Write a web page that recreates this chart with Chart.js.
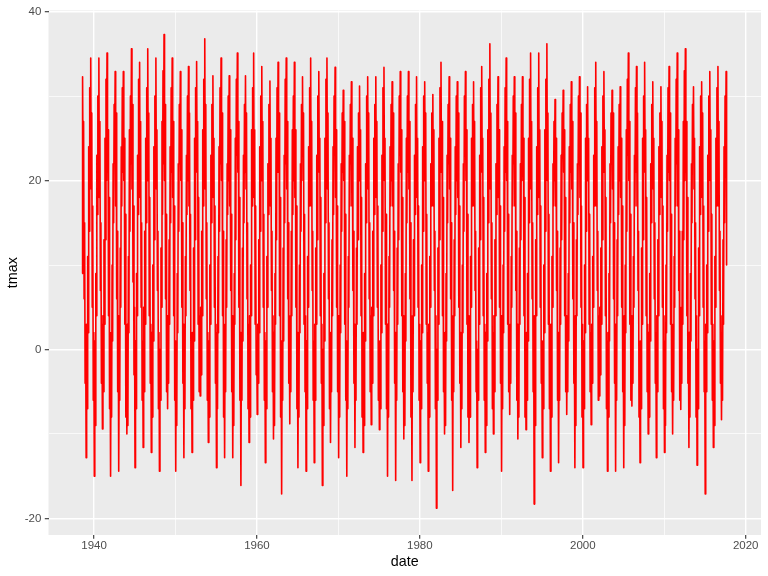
<!DOCTYPE html>
<html>
<head>
<meta charset="utf-8">
<script src="https://cdn.jsdelivr.net/npm/chart.js@4.4.1/dist/chart.umd.min.js"></script>
<style>
  html, body { margin: 0; padding: 0; background: #fff; }
  canvas { display: block; }
</style>
</head>
<body>
<canvas id="myChart" width="768" height="576"></canvas>
<script>
// one row per year, 16 readings spread over the year (jan .. dec)
const years = [];
for (let y = 1938; y <= 2017; y++) years.push(y);

const tmaxRows = [
  [null, null, null, null, null, null, null, null, 9, 32.3, 20, 27, 6, 15, -4, 3], // 1938
  [-12.8, 3, -7, 11, 2, 24, 14, 31, 21, 34.5, 19, 28, 5, 17, -6, 2],
  [-15, 1, -9, 9, 4, 23, 16, 30, 22, 34.5, 18, 27, 7, 15, -4, 3], // 1940
  [-9.4, 4, -5, 13, 3, 25, 13, 32, 20, 35.1, 21, 26, 4, 18, -7, 1],
  [-15, 2, -8, 10, 1, 22, 15, 29, 23, 32.9, 17, 28, 6, 14, -5, 4],
  [-14.4, 0, -6, 12, 5, 24, 17, 31, 21, 32.9, 20, 25, 3, 16, -8, 2],
  [-10, 3, -9, 11, 2, 26, 14, 30, 22, 35.6, 19, 29, 8, 17, -3, 5],
  [-14, 1, -7, 9, 4, 23, 16, 32, 24, 34, 18, 27, 5, 15, -6, 1],
  [-11.6, 5, -5, 14, 3, 25, 15, 31, 20, 35.6, 21, 28, 4, 18, -4, 3],
  [-12.2, 2, -8, 10, 1, 24, 13, 30, 23, 34.5, 19, 26, 7, 14, -7, 2],
  [-14.4, 0, -6, 12, 5, 27, 16, 33, 22, 37.3, 20, 29, 6, 16, -5, 4],
  [-7, 4, -4, 13, 3, 24, 15, 31, 21, 34.5, 18, 27, 4, 17, -6, 1],
  [-14.4, 1, -9, 9, 2, 22, 14, 29, 22, 32.9, 20, 26, 5, 15, -4, 3], // 1950
  [-12.8, 3, -7, 11, 4, 23, 16, 30, 20, 33.5, 17, 28, 7, 16, -7, 2],
  [-12.2, 2, -6, 12, 1, 25, 13, 31, 23, 34.1, 21, 27, 3, 18, -5, 4],
  [-5.5, 5, -3, 14, 4, 26, 17, 32, 22, 36.8, 19, 29, 6, 15, -6, 2],
  [-11, 1, -8, 10, 3, 23, 15, 29, 21, 32.4, 18, 25, 5, 17, -4, 3],
  [-14, 2, -7, 11, 2, 24, 14, 31, 22, 34.5, 20, 28, 4, 14, -8, 1],
  [-12.8, 3, -5, 13, 5, 22, 16, 30, 20, 32.4, 17, 26, 7, 16, -5, 4],
  [-12.8, 0, -9, 9, 3, 25, 13, 32, 23, 35.1, 21, 27, 5, 18, -6, 2],
  [-16.1, 2, -6, 12, 1, 23, 15, 29, 21, 32.4, 19, 28, 6, 15, -7, 3],
  [-11, 4, -8, 10, 4, 26, 17, 31, 22, 35.1, 18, 26, 3, 17, -3, 1],
  [-7.7, 3, -4, 13, 2, 24, 14, 30, 20, 33.5, 20, 27, 5, 16, -6, 2], // 1960
  [-13.4, 1, -7, 11, 5, 22, 16, 29, 23, 31.8, 17, 25, 7, 14, -5, 4],
  [-10.6, 2, -9, 9, 3, 25, 13, 31, 21, 34, 21, 28, 4, 18, -8, 1],
  [-17.1, 0, -6, 12, 1, 23, 15, 32, 22, 34.5, 19, 27, 6, 15, -4, 3],
  [-8.8, 4, -5, 14, 4, 26, 16, 30, 20, 34, 18, 26, 5, 17, -7, 2],
  [-14, 2, -8, 10, 2, 22, 14, 29, 23, 32.3, 20, 28, 3, 16, -5, 4],
  [-14.4, 1, -7, 11, 5, 24, 17, 31, 21, 34.5, 17, 27, 7, 14, -6, 1],
  [-13.4, 3, -6, 12, 3, 23, 13, 30, 22, 32.9, 21, 25, 4, 18, -4, 3],
  [-16.1, 0, -9, 9, 1, 25, 15, 32, 20, 34.5, 19, 28, 6, 15, -7, 2],
  [-11, 2, -5, 13, 4, 24, 16, 30, 23, 33.4, 18, 26, 5, 17, -5, 4],
  [-12.8, 4, -8, 10, 2, 22, 14, 28, 21, 30.7, 20, 27, 3, 16, -6, 1], // 1970
  [-15, 1, -7, 11, 5, 23, 17, 29, 22, 31.7, 17, 25, 7, 14, -4, 3],
  [-11.6, 3, -6, 12, 3, 24, 13, 28, 20, 31.2, 21, 26, 4, 18, -8, 2],
  [-12.2, 2, -9, 9, 1, 22, 15, 30, 23, 32.3, 19, 28, 6, 15, -5, 4],
  [-8.9, 5, -4, 14, 4, 25, 16, 29, 21, 32.3, 18, 27, 5, 17, -6, 1],
  [-9.5, 1, -7, 10, 2, 23, 14, 31, 22, 33.4, 20, 25, 3, 16, -7, 3],
  [-15, 3, -8, 11, 5, 24, 17, 29, 20, 31.7, 17, 28, 7, 14, -4, 2],
  [-15.5, 0, -6, 12, 3, 22, 13, 30, 23, 32.9, 21, 26, 4, 18, -5, 4],
  [-10.6, 2, -9, 9, 1, 25, 15, 30, 21, 32.9, 19, 27, 6, 15, -8, 1],
  [-15.5, 4, -5, 13, 4, 23, 16, 29, 22, 32.3, 18, 25, 5, 17, -6, 3],
  [-13.4, 1, -7, 10, 2, 24, 14, 30, 20, 31.7, 20, 28, 3, 16, -4, 2], // 1980
  [-14.4, 3, -8, 11, 5, 22, 17, 28, 23, 30.2, 17, 26, 7, 14, -7, 4],
  [-18.8, 0, -6, 12, 3, 25, 13, 31, 21, 34, 21, 27, 4, 18, -5, 1],
  [-10, 2, -9, 9, 1, 23, 15, 29, 22, 32.3, 19, 25, 6, 15, -6, 3],
  [-16.7, 4, -5, 13, 4, 24, 16, 30, 20, 31.7, 18, 28, 5, 17, -4, 2],
  [-11.6, 1, -7, 10, 2, 22, 14, 30, 23, 32.9, 20, 26, 3, 16, -8, 4],
  [-11, 3, -8, 11, 5, 25, 17, 29, 21, 31.7, 17, 27, 7, 14, -5, 1],
  [-14, 0, -6, 12, 3, 23, 13, 31, 22, 33.5, 21, 25, 4, 18, -6, 3],
  [-12.2, 2, -9, 9, 1, 26, 15, 32, 20, 36.2, 19, 28, 6, 15, -7, 2],
  [-10, 4, -5, 13, 4, 22, 16, 29, 23, 32.3, 18, 26, 5, 17, -4, 4],
  [-14.4, 1, -7, 10, 2, 24, 14, 31, 21, 34.5, 20, 27, 3, 16, -5, 1], // 1990
  [-7.7, 3, -4, 11, 5, 23, 17, 30, 22, 32.3, 17, 28, 7, 14, -6, 3],
  [-10.6, 0, -8, 12, 3, 22, 13, 29, 20, 32.3, 21, 25, 4, 18, -8, 2],
  [-9.5, 2, -6, 9, 1, 25, 15, 32, 23, 35.1, 19, 27, 6, 15, -5, 4],
  [-18.3, 4, -9, 13, 4, 24, 16, 31, 21, 35.1, 18, 26, 5, 17, -4, 1],
  [-12.8, 1, -7, 10, 2, 26, 14, 32, 22, 36.2, 20, 28, 3, 16, -7, 3],
  [-14.4, 3, -8, 11, 5, 22, 17, 27, 20, 29.6, 17, 25, 7, 14, -6, 2],
  [-13.4, 0, -6, 12, 3, 23, 13, 28, 23, 30.7, 21, 26, 4, 18, -5, 4],
  [-7.7, 2, -5, 9, 1, 24, 15, 29, 21, 31.7, 19, 27, 6, 15, -4, 1],
  [-14, 4, -9, 13, 4, 22, 16, 30, 22, 32.3, 18, 28, 5, 17, -8, 3],
  [-14, 1, -7, 10, 2, 25, 14, 29, 20, 31.1, 20, 25, 3, 16, -5, 2], // 2000
  [-8.9, 3, -4, 11, 5, 23, 17, 31, 23, 34, 17, 27, 7, 14, -6, 4],
  [-5.5, 5, -3, 12, 3, 24, 13, 30, 21, 32.9, 21, 26, 4, 18, -7, 1],
  [-14.4, 2, -8, 9, 1, 22, 15, 28, 22, 30.7, 19, 28, 6, 15, -4, 3],
  [-14.4, 0, -6, 13, 4, 24, 16, 29, 20, 31.1, 18, 25, 5, 17, -5, 2],
  [-14, 4, -9, 10, 2, 26, 14, 32, 23, 35.1, 20, 27, 3, 16, -6, 4],
  [-6.7, 3, -4, 11, 5, 23, 17, 31, 21, 33.5, 17, 28, 7, 14, -8, 1],
  [-13.4, 1, -7, 12, 3, 25, 13, 30, 22, 34, 21, 26, 4, 18, -5, 3],
  [-10, 2, -8, 9, 1, 22, 15, 29, 20, 31.7, 19, 25, 6, 15, -4, 2],
  [-12.8, 4, -5, 13, 4, 24, 16, 28, 23, 31.1, 18, 27, 5, 17, -7, 4],
  [-12.2, 1, -9, 10, 2, 23, 14, 31, 21, 33.5, 20, 28, 3, 16, -5, 1], // 2010
  [-10, 3, -6, 11, 5, 25, 17, 32, 22, 35.1, 17, 26, 7, 14, -6, 3],
  [-7.1, 5, -4, 14, 3, 27, 13, 33, 20, 35.6, 21, 27, 4, 18, -4, 2],
  [-11.6, 2, -8, 9, 1, 22, 15, 29, 23, 31.1, 19, 25, 6, 15, -8, 4],
  [-13.7, 0, -7, 12, 4, 24, 16, 30, 21, 31.7, 18, 28, 5, 17, -5, 1],
  [-17.1, 3, -5, 10, 2, 23, 14, 30, 22, 32.9, 20, 26, 3, 16, -6, 3],
  [-11.6, 1, -9, 11, 5, 25, 17, 31, 20, 33.5, 17, 27, 7, 14, -4, 2],
  [-8.3, 4, -6, 13, 3, 24, 15, 30, 22, 32.9, 10] // 2017
];

const xTicks = [1940, 1950, 1960, 1970, 1980, 1990, 2000, 2010, 2020];
const xTickLabels = [1940, 1960, 1980, 2000, 2020];
const yTicks = [-20, -10, 0, 10, 20, 30, 40];
const yTickLabels = [-20, 0, 20, 40];

const SLOTS = 16;
const FONT = "'Liberation Sans', Arial, Helvetica, sans-serif";

const points = [];
years.forEach((yr, i) => {
  tmaxRows[i].forEach((v, s) => {
    if (v !== null) points.push({ x: yr + (s + 0.5) / SLOTS, y: v });
  });
});

// grey panel behind the grid, ggplot style
const panelBg = {
  id: 'panelBg',
  beforeDraw(chart) {
    const { ctx, chartArea: a } = chart;
    ctx.save();
    ctx.fillStyle = '#EBEBEB';
    ctx.fillRect(a.left, a.top, a.right - a.left, a.bottom - a.top);
    ctx.restore();
  }
};

const gridFor = (labels) => ({
  color: '#FFFFFF',
  lineWidth: (c) => (c.tick && labels.includes(c.tick.value) ? 1.4 : 0.7),
  drawTicks: true,
  tickLength: 3.7,
  tickWidth: 1.1,
  tickColor: (c) => (c.tick && labels.includes(c.tick.value) ? '#333333' : 'rgba(0,0,0,0)')
});

let myChart;

const setup = () => {
  const ctxt = document.getElementById('myChart').getContext('2d');

  myChart = new Chart(ctxt, {
    type: 'line',
    data: {
      datasets: [{
        label: 'tmax',
        data: points,
        borderColor: '#FF0000',
        borderWidth: 1.6,
        borderJoinStyle: 'round',
        pointRadius: 0,
        tension: 0,
        fill: false
      }]
    },
    options: {
      responsive: false,
      animation: false,
      normalized: true,
      layout: { padding: { top: 7, right: 7, left: 0, bottom: 0 } },
      plugins: {
        legend: { display: false },
        tooltip: { enabled: false }
      },
      scales: {
        x: {
          type: 'linear',
          min: 1934.41,
          max: 2021.88,
          afterBuildTicks: (s) => { s.ticks = xTicks.map(v => ({ value: v })); },
          afterFit: (s) => { s.height = 41; },
          border: { display: false },
          grid: gridFor(xTickLabels),
          ticks: {
            autoSkip: false,
            maxRotation: 0,
            padding: 0,
            color: '#4D4D4D',
            font: { family: FONT, size: 11.5 },
            callback: (v) => (xTickLabels.includes(v) ? String(v) : '')
          },
          title: {
            display: true,
            text: 'date',
            color: '#000000',
            font: { family: FONT, size: 14.3 },
            padding: { top: 0, bottom: 5.8 }
          }
        },
        y: {
          min: -21.96,
          max: 40.15,
          afterBuildTicks: (s) => { s.ticks = yTicks.map(v => ({ value: v })); },
          afterFit: (s) => { s.width = 48.5; },
          border: { display: false },
          grid: gridFor(yTickLabels),
          ticks: {
            autoSkip: false,
            padding: 3.5,
            color: '#4D4D4D',
            font: { family: FONT, size: 11.5 },
            callback: (v) => (yTickLabels.includes(v) ? String(v) : '')
          },
          title: {
            display: true,
            text: 'tmax',
            color: '#000000',
            font: { family: FONT, size: 14.3 },
            padding: { top: 4.8, bottom: 0 }
          }
        }
      }
    },
    plugins: [panelBg]
  });
};

window.addEventListener('DOMContentLoaded', setup);
</script>
</body>
</html>
